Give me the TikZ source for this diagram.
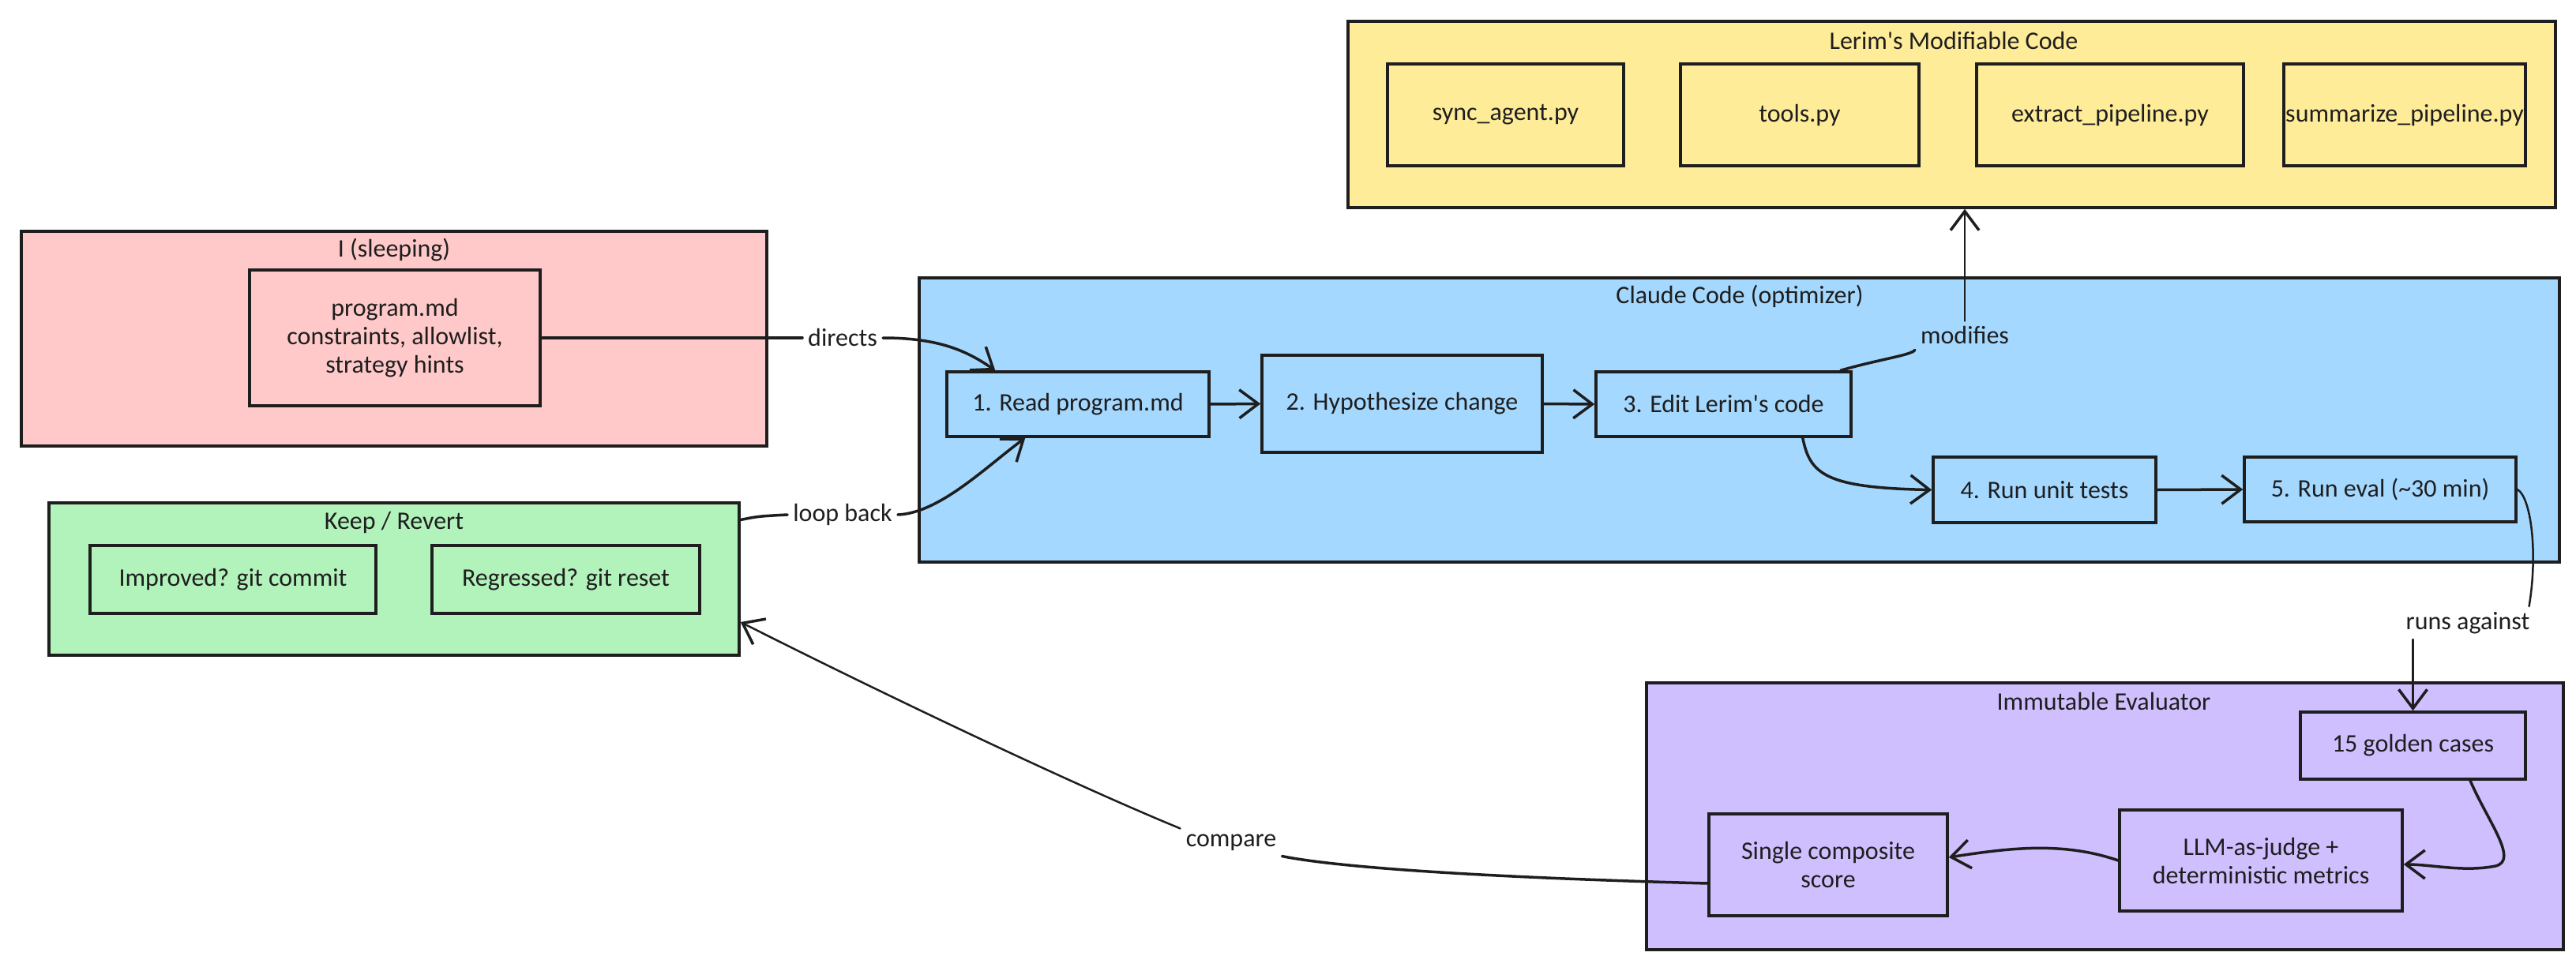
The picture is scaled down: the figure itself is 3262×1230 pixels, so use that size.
\documentclass[tikz,border=0pt]{standalone}
\usepackage{fontspec}
\setmainfont{Carlito}
\usetikzlibrary{arrows.meta}
\definecolor{ink}{HTML}{1E1E1E}
\definecolor{pinkf}{HTML}{FFC9C9}
\definecolor{yellowf}{HTML}{FFEC99}
\definecolor{bluef}{HTML}{A5D8FF}
\definecolor{greenf}{HTML}{B2F2BB}
\definecolor{purplef}{HTML}{D0BFFF}
\begin{document}
\begin{tikzpicture}[x=1pt,y=-1pt,
  every node/.style={font=\fontsize{32}{36}\selectfont, text=ink},
  grp/.style={draw=ink, line width=3.5pt, inner sep=0pt, rectangle},
  card/.style={draw=ink, line width=3.5pt, inner sep=0pt, align=center, rectangle},
  lbl/.style={inner sep=7pt},
  conn/.style={draw=ink, line width=3.5pt, line cap=round},
  thinconn/.style={draw=ink, line width=2.5pt, line cap=round},
  arr/.style={-{Straight Barb[length=24pt,width=36pt,line width=3.5pt]}}
]
\useasboundingbox (0,0) rectangle (3262,1230);
% containers
\node[grp, fill=pinkf, minimum width=944pt, minimum height=272pt] (sleep) at (499,429) {};
\node[grp, fill=yellowf, minimum width=1529pt, minimum height=236pt] (code) at (2471.5,145) {};
\node[grp, fill=bluef, minimum width=2077pt, minimum height=360pt] (claude) at (2202.5,532) {};
\node[grp, fill=greenf, minimum width=874pt, minimum height=193pt] (keep) at (499,733.5) {};
\node[grp, fill=purplef, minimum width=1161pt, minimum height=338pt] (evalr) at (2665.5,1034) {};
% titles
\node (tsleep) at (499,317) {I (sleeping)};
\node (tcode) at (2474,52) {Lerim\textquotesingle s Modifiable Code};
\node (tclaude) at (2203,375) {Claude Code (optimizer)};
\node (tkeep) at (499,662) {Keep / Revert};
\node (tevalr) at (2664,889) {Immutable Evaluator};
% inner cards
\node[card, minimum width=368pt, minimum height=172pt] (prog) at (500,428) {program.md\\constraints, allowlist,\\strategy hints};
\node[card, minimum width=299pt, minimum height=129pt] (sync) at (1906.5,145.5) {sync\_agent.py};
\node[card, minimum width=302pt, minimum height=129pt] (tools) at (2279,145.5) {tools.py};
\node[card, minimum width=338pt, minimum height=129pt] (extract) at (2672,145.5) {extract\_pipeline.py};
\node[card, minimum width=306pt, minimum height=129pt] (summ) at (3045,145.5) {summarize\_pipeline.py};
\node[card, minimum width=332pt, minimum height=82pt] (b1) at (1365,512) {1. Read program.md};
\node[card, minimum width=355pt, minimum height=123pt] (b2) at (1775.5,511.5) {2. Hypothesize change};
\node[card, minimum width=323pt, minimum height=82pt] (b3) at (2182.5,512) {3. Edit Lerim\textquotesingle s code};
\node[card, minimum width=282pt, minimum height=83pt] (b4) at (2589,620.5) {4. Run unit tests};
\node[card, minimum width=344pt, minimum height=82pt] (b5) at (3014,620) {5. Run eval (\textasciitilde30 min)};
\node[card, minimum width=285pt, minimum height=85pt] (gold) at (3055.5,944.5) {15 golden cases};
\node[card, minimum width=358pt, minimum height=128pt] (llm) at (2863,1090) {LLM-as-judge +\\deterministic metrics};
\node[card, minimum width=302pt, minimum height=129pt] (single) at (2315,1095.5) {Single composite\\score};
\node[card, minimum width=362pt, minimum height=86pt] (impr) at (295,734) {Improved? git commit};
\node[card, minimum width=339pt, minimum height=86pt] (regr) at (716.5,734) {Regressed? git reset};
% labels
\node[lbl] (ldirects) at (1067,428) {directs};
\node[lbl] (lloop) at (1067,652) {loop back};
\node[lbl] (lmod) at (2488,425) {modifies};
\node[lbl] (lruns) at (3125,789) {runs against};
\node[lbl] (lcmp) at (1559,1067) {compare};
% connectors
\draw[conn] (prog.east) -- (ldirects.west);
\draw[conn, arr] (ldirects.east) .. controls (1190,428) and (1225,445) .. ([xshift=63pt]b1.north west);
\draw[conn] ([yshift=75pt]keep.east) .. controls (960,654) .. (lloop.west);
\draw[conn, arr] (lloop.east) .. controls (1190,650) and (1250,590) .. ([xshift=101pt]b1.south west);
\draw[conn, arr] (b1.east) -- (b2.west);
\draw[conn, arr] (b2.east) -- (b3.west);
\draw[conn, arr] ([xshift=-63pt]b3.south east) .. controls (2292,600) and (2310,618) .. (b4.west);
\draw[conn, arr] (b4.east) -- (b5.west);
\draw[conn] ([xshift=-15pt]b3.north east) .. controls (2380,455) and (2420,450) .. (lmod.south west);
\draw[thinconn, arr] (lmod.north) -- (lmod.north |- code.south);
\draw[thinconn] (b5.east) .. controls (3205,630) and (3214,700) .. ([xshift=-8pt]lruns.north east);
\draw[thinconn, arr] (lruns.south -| gold.north) -- (gold.north);
\draw[conn, arr] ([xshift=72.5pt]gold.south) .. controls (3150,1040) and (3190,1090) .. (3160,1097) .. controls (3120,1105) and (3080,1095) .. ([yshift=-5pt]llm.east);
\draw[conn, arr] (llm.west) .. controls (2610,1065) and (2540,1075) .. ([yshift=9.5pt]single.east);
\draw[conn] ([yshift=-23.5pt]single.west) .. controls (1900,1112) and (1700,1100) .. (lcmp.south east);
\draw[thinconn, arr] (lcmp.north west) .. controls (1350,990) and (1100,870) .. ([yshift=-54.5pt]keep.east);
\end{tikzpicture}
\end{document}
